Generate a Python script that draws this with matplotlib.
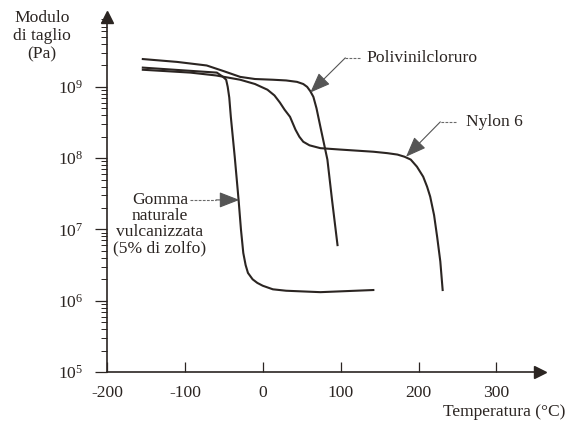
import numpy as np
import matplotlib; matplotlib.use("Agg")
import matplotlib.pyplot as plt

plt.rcParams["font.family"] = "Liberation Serif"
plt.rcParams["mathtext.fontset"] = "custom"
plt.rcParams["mathtext.rm"] = "Liberation Serif"
plt.rcParams["mathtext.it"] = "Liberation Serif:italic"

# curves: temperature (°C) and log10 of shear modulus (Pa)
pvc_T = [-154, -110, -72, -50, -29, -10, 13, 30, 44, 52, 57, 61, 65, 69, 74, 83, 89, 96]
pvc_logG = [9.39, 9.35, 9.30, 9.22, 9.14, 9.11, 9.10, 9.09, 9.07, 9.04, 9.00, 8.94, 8.86, 8.70,
            8.44, 7.98, 7.41, 6.78]

gomma_T = [-154, -100, -59, -51, -47, -45, -43, -41, -36, -31, -28, -25, -22, -19, -13, -7, 0,
           13, 30, 74, 142]
gomma_logG = [9.27, 9.23, 9.20, 9.14, 9.10, 9.00, 8.85, 8.58, 8.02, 7.41, 7.00, 6.67, 6.50, 6.39,
              6.30, 6.25, 6.21, 6.16, 6.14, 6.12, 6.15]

nylon_T = [-154, -93, -60, -29, -10, 6, 15, 22, 28, 35, 42, 47, 52, 60, 74, 100, 142, 160, 173,
           182, 190, 198, 206, 211, 215, 220, 224, 228, 231]
nylon_logG = [9.24, 9.20, 9.16, 9.10, 9.04, 8.96, 8.88, 8.78, 8.68, 8.58, 8.40, 8.30, 8.23, 8.18,
              8.14, 8.12, 8.09, 8.07, 8.05, 8.02, 7.98, 7.88, 7.74, 7.60, 7.46, 7.20, 6.89, 6.55, 6.15]

xticks = [-200, -100, 0, 100, 200, 300]
yticks = [1e5, 1e6, 1e7, 1e8, 1e9]

INK = "#2b2522"
FS = 12.6

fig = plt.figure(figsize=(5.66, 4.23), dpi=100)
ax = fig.add_axes([107/566, 1-372/423, (540-107)/566, (372-17)/423])
ax.set_yscale("log")
ax.set_xlim(-200, 356)
ax.set_ylim(1e5, 10**9.98)

for T, lg in [(pvc_T, pvc_logG), (gomma_T, gomma_logG), (nylon_T, nylon_logG)]:
    ax.plot(T, 10**np.array(lg), color=INK, lw=1.5, solid_joinstyle="round")

for s in ["top", "right"]:
    ax.spines[s].set_visible(False)
for s in ["left", "bottom"]:
    ax.spines[s].set_color(INK); ax.spines[s].set_linewidth(1.2)
# arrow heads on the axes
ax.plot(1, 0, ">", color=INK, ms=9, transform=ax.transAxes, clip_on=False)
ax.plot(0, 1, "^", color=INK, ms=9, transform=ax.transAxes, clip_on=False)

ax.set_xticks(xticks)
ax.set_xticklabels([str(t) for t in xticks])
ax.set_yticks(yticks)
ax.tick_params(axis="x", direction="in", length=7, width=0.9, pad=9, labelsize=FS, colors=INK)
ax.tick_params(axis="y", which="major", direction="out", length=9, width=0.9, pad=8, labelsize=FS, colors=INK)
ax.tick_params(axis="y", which="minor", direction="out", length=4, width=0.7, colors=INK)

# labels
fig.text(42/566, 1-10/423, "Modulo\ndi taglio\n(Pa)", ha="center", va="top",
         fontsize=FS, linespacing=1.2, color=INK)
fig.text(565/566, 1-412/423, "Temperatura (°C)", ha="right", va="center", fontsize=FS, color=INK)

# leaders with arrow heads
lead = dict(color="#6a6a6a", lw=0.8, ls=(0, (2.5, 1.2)))
head = dict(arrowstyle="-|>,head_length=0.9,head_width=0.35", color="#555555", lw=0.8,
            mutation_scale=14, shrinkA=0, shrinkB=0)

ax.text(133, 10**9.41, "Polivinilcloruro", ha="left", va="center", fontsize=FS, color=INK)
ax.plot([125, 106], [10**9.407]*2, **lead)
ax.annotate("", xy=(61, 10**8.92), xytext=(106, 10**9.407), arrowprops=head)

ax.text(261.5, 10**8.51, "Nylon 6", ha="left", va="center", fontsize=FS, color=INK)
ax.plot([248.6, 228], [10**8.509]*2, **lead)
ax.annotate("", xy=(184, 10**8.02), xytext=(228, 10**8.509), arrowprops=head)

ax.text(-132, 10**7.52, "Gomma\nnaturale\nvulcanizzata\n(5% di zolfo)", ha="center", va="top",
        fontsize=FS, linespacing=1.0, color=INK)
ax.plot([-93, -60], [10**7.414]*2, **lead)
ax.annotate("", xy=(-30, 10**7.414), xytext=(-60, 10**7.414), arrowprops=head)

fig.savefig("out.png", dpi=100)
